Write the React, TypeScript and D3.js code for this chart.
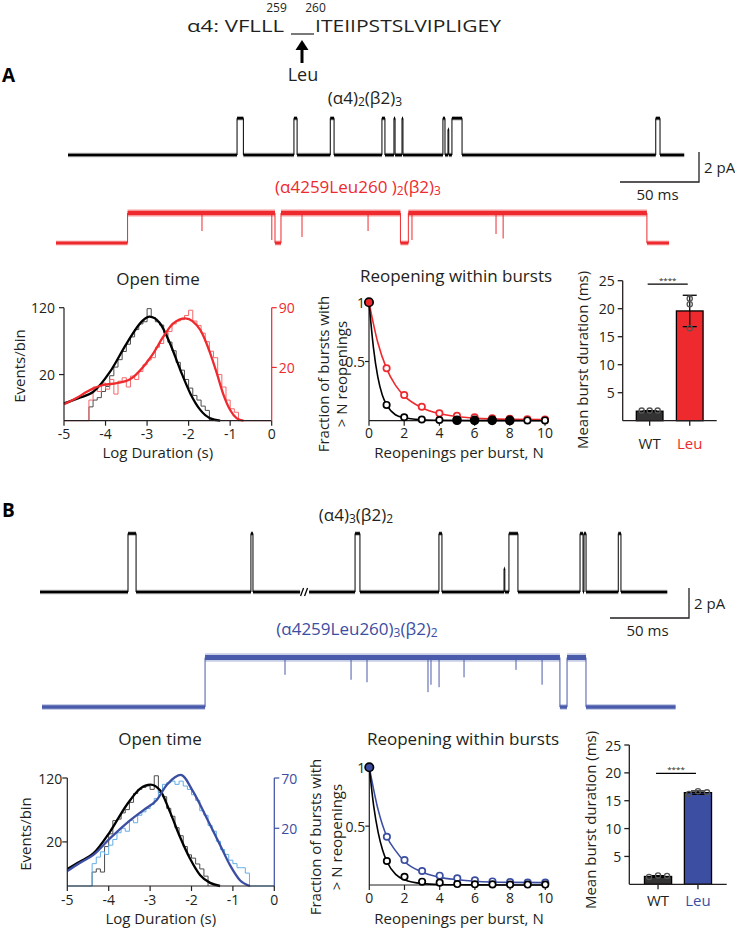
import * as d3 from 'd3';

const FONT = '"Open Sans", Arial, sans-serif';
const INK = '#231f20';
const RED = '#ee2a2e';
const RED_LIGHT = '#f3696b';
const BLUE = '#3b4ea2';
const BLUE_LIGHT = '#63aee6';
const BLUE_TRACE = '#4a5bab';

const PX_PER_MS = 79 / 50;
const PX_PER_PA = 15;

// single-channel records: [open ms, shut ms, fraction of full amplitude]
const wtA_open = [[107, 111, 1], [143, 145, 1], [166, 168.4, 1], [198.7, 200.6, 1], [206.3, 207, 1], [211.4, 212, 1], [237.3, 238.6, 1], [240.5, 241, 0.7], [243, 249.4, 1], [372, 374.7, 1]];
const wtA_dur = 390;
const wtA_amp = 2.45;
const leuA_open = [[45.3, 138.6, 1], [142.4, 218, 1], [223, 374, 1]];
const leuA_flick = [[92.4, 0.6], [136.6, 0.9], [155.7, 0.8], [197.5, 0.6], [225.3, 0.9], [278.5, 0.7], [283, 0.85]];
const leuA_dur = 388;
const leuA_amp = 2.0;

const wtB_open = [[55.7, 60.8, 1], [133.5, 134.8, 1], [199.4, 202.5, 1], [252.5, 254.4, 1], [293.7, 294.2, 0.4], [296.8, 302.5, 1], [341.8, 343.7, 1], [344.3, 345.6, 1], [366, 367.7, 1]];
const wtB_dur = 397;
const wtB_amp = 3.9;
const wtB_break = [164.6, 170.3];
const leuB_open = [[103.2, 327.8, 1], [332.3, 344.3, 1]];
const leuB_flick = [[153.8, 0.35], [195.6, 0.45], [205.7, 0.5], [244.3, 0.7], [246.2, 0.55], [251.3, 0.6], [267.1, 0.4], [300, 0.25], [316.5, 0.55]];
const leuB_dur = 401;
const leuB_amp = 3.3;

// open-time histograms, 0.1 log-unit bins starting at -4.4
const histStart = -4.4;
const binW = 0.1;
const wtA_hist = [1.8, 4, 5, 8, 11, 19, 27, 35, 45, 55, 66, 78, 88, 92, 118, 100, 92, 86, 72, 58, 46, 32, 24, 16, 10, 6, 4, 2, 1];
const leuA_hist = [3, 8, 6, 10, 7, 12, 5, 11, 13, 8, 14, 12, 17, 22, 26, 28, 38, 42, 52, 56, 66, 70, 72, 78, 86, 70, 64, 54, 44, 34, 28, 15, 8, 3, 1, 0.5];
const wtB_hist = [2, 3, 2, 16, 28, 44, 46, 55, 60, 72, 88, 96, 100, 103, 96, 125, 90, 82, 62, 50, 35, 26, 16, 10, 8, 5, 3, 1];
const leuB_hist = [3, 5, 7, 6, 10, 13, 17, 20, 18, 26, 24, 30, 33, 36, 40, 46, 55, 62, 64, 66, 62, 66, 60, 56, 50, 44, 34, 30, 22, 18, 12, 8, 6, 4, 3, 2, 2, 1];

// fitted densities [log10 s, events/bin]
const wtA_fit = [[-5, 2.8], [-4.65, 4.8], [-4.29, 7.9], [-3.89, 22.6], [-3.49, 56.3], [-3.09, 95.3], [-2.94, 101.6], [-2.69, 89.2], [-2.45, 56.3], [-2.2, 24.2], [-1.96, 7], [-1.72, 1.1], [-1.48, 0.05], [-1.24, 0]];
const leuA_fit = [[-5, 1.9], [-4.7, 3.6], [-4.45, 5.9], [-4.05, 9], [-3.73, 9.9], [-3.41, 12.1], [-3.09, 20.6], [-2.85, 32], [-2.61, 49.7], [-2.37, 66.9], [-2.08, 73.9], [-1.72, 58], [-1.48, 32], [-1.32, 15.8], [-1.16, 4.7], [-1.0, 0.8], [-0.84, 0.04], [-0.68, 0]];
const wtB_fit = [[-5, 3], [-4.7, 6], [-4.37, 10.9], [-3.97, 30.2], [-3.57, 67.1], [-3.24, 97.7], [-2.99, 105.8], [-2.76, 94.3], [-2.52, 56.5], [-2.28, 24.9], [-2.04, 7.9], [-1.79, 1.2], [-1.55, 0.1], [-1.31, 0]];
const leuB_fit = [[-5, 1.35], [-4.7, 3.2], [-4.37, 5.8], [-3.97, 13.6], [-3.57, 23.6], [-3.16, 34.6], [-2.84, 44.4], [-2.6, 61.2], [-2.4, 71], [-2.26, 74], [-1.96, 53.4], [-1.63, 27.5], [-1.31, 10.1], [-1.07, 2.6], [-0.83, 0.2], [-0.59, 0]];
const logTicks = [-5, -4, -3, -2, -1, 0];

// reopenings within bursts
const nReopen = [0, 1, 2, 3, 4, 5, 6, 7, 8, 9, 10];
const wtA_reopen = [1, 0.133, 0.029, 0.01, 0.006, 0.004, 0.003, 0.003, 0.002, 0.002, 0.002];
const leuA_reopen = [1, 0.443, 0.217, 0.118, 0.0625, 0.042, 0.029, 0.02, 0.015, 0.012, 0.01];
const wtB_reopen = [1, 0.204, 0.07, 0.028, 0.02, 0.008, 0.006, 0.005, 0.004, 0.004, 0.004];
const leuB_reopen = [1, 0.41, 0.212, 0.119, 0.079, 0.057, 0.04, 0.03, 0.025, 0.02, 0.02];
const wtA_reFit = [[0, 1], [0.25, 0.62], [0.5, 0.37], [0.75, 0.22], [1, 0.135], [1.5, 0.05], [2, 0.025], [3, 0.008], [4, 0.003], [6, 0.001], [10, 0]];
const leuA_reFit = [[0, 1], [0.5, 0.66], [1, 0.44], [1.5, 0.3], [2, 0.21], [3, 0.11], [4, 0.06], [5, 0.035], [6, 0.022], [8, 0.012], [10, 0.01]];
const wtB_reFit = [[0, 1], [0.25, 0.67], [0.5, 0.45], [0.75, 0.3], [1, 0.2], [1.5, 0.09], [2, 0.045], [3, 0.012], [4, 0.004], [6, 0.001], [10, 0]];
const leuB_reFit = [[0, 1], [0.5, 0.64], [1, 0.41], [1.5, 0.29], [2, 0.2], [3, 0.11], [4, 0.065], [5, 0.045], [6, 0.032], [8, 0.022], [10, 0.02]];

// mean burst duration (ms)
const groups = ['WT', 'Leu'];
const burstA_mean = [1.7, 19.6];
const burstA_sd = [0.1, 2.8];
const burstA_pts = [[1.8, 1.8, 1.8], [21.8, 20.8, 16.5]];
const burstB_mean = [1.4, 16.45];
const burstB_sd = [0.15, 0.3];
const burstB_pts = [[1.3, 1.6, 1.5], [16.2, 16.7, 16.5]];
const sigA = 24.4;
const sigB = 19.9;
const burstTicks = [5, 10, 15, 20, 25];

function Trace({ openings, flickers = [], dur, amp, x0, y0, color, band, openBand, gap }: any) {
  const x = d3.scaleLinear().domain([0, dur]).range([x0, x0 + dur * PX_PER_MS]);
  const y = d3.scaleLinear().domain([0, amp]).range([y0, y0 - amp * PX_PER_PA]);
  const segs: number[][] = [];
  let t = 0;
  openings.forEach(([s, e, f]: number[]) => {
    segs.push([t, s, 0]);
    segs.push([s, e, f]);
    t = e;
  });
  segs.push([t, dur, 0]);
  const pieces = gap
    ? segs.flatMap(([a, b, f]) => (f === 0 && a < gap[0] && b > gap[1] ? [[a, gap[0], 0], [gap[1], b, 0]] : [[a, b, f]]))
    : segs;
  const xm = gap ? x((gap[0] + gap[1]) / 2) : 0;
  return (
    <g>
      {openings.map(([s, e, f]: number[], i: number) => (
        <g key={i}>
          <line x1={x(s)} x2={x(s)} y1={y(0)} y2={y(f * amp)} stroke={color} strokeWidth={1} />
          <line x1={x(e)} x2={x(e)} y1={y(0)} y2={y(f * amp)} stroke={color} strokeWidth={1} />
        </g>
      ))}
      {pieces.map(([a, b, f], i) => {
        const w = f === 0 ? band : openBand;
        return (
          <g key={'h' + i}>
            <line x1={x(a)} x2={x(b)} y1={y(f * amp)} y2={y(f * amp)} stroke={color} strokeWidth={w * 1.7} opacity={0.3} />
            <line x1={x(a)} x2={x(b)} y1={y(f * amp)} y2={y(f * amp)} stroke={color} strokeWidth={w} />
          </g>
        );
      })}
      {flickers.map(([tt, d]: number[], i: number) => (
        <line key={'f' + i} x1={x(tt)} x2={x(tt)} y1={y(amp)} y2={y(amp * (1 - d))} stroke={color} strokeWidth={1} />
      ))}
      {gap && (
        <g stroke={color} strokeWidth={1.3}>
          <line x1={xm - 4} x2={xm - 1} y1={y0 + 4} y2={y0 - 4} />
          <line x1={xm} x2={xm + 3} y1={y0 + 4} y2={y0 - 4} />
        </g>
      )}
    </g>
  );
}

function ScaleBar({ xr, yb, ty }: any) {
  const len = 50 * PX_PER_MS;
  const h = 2 * PX_PER_PA;
  return (
    <g>
      <path d={`M${xr - len},${yb}H${xr}V${yb - h}`} fill="none" stroke={INK} strokeWidth={1.3} />
      <text x={xr + 5} y={yb - h / 2} fontSize={15} dominantBaseline="central" fill={INK}>2 pA</text>
      <text x={xr - len / 2 - 2} y={ty} fontSize={15} textAnchor="middle" dominantBaseline="central" fill={INK}>50  ms</text>
    </g>
  );
}

function histPath(vals: number[], start: number, lo: number, hi: number) {
  const pts: number[][] = [[lo, 0], [start, 0]];
  vals.forEach((v, i) => {
    pts.push([start + i * binW, v]);
    pts.push([start + (i + 1) * binW, v]);
  });
  pts.push([start + vals.length * binW, 0]);
  pts.push([hi, 0]);
  return pts;
}

function OpenTime({ L, h1, h2, f1, f2, rMax, rTicks, acc, accLight }: any) {
  const x = d3.scaleLinear().domain([-5, 0]).range([L.x0, L.x1]);
  const yl = d3.scaleSqrt().domain([0, 120]).range([L.yBase, L.yTop]);
  const yr = d3.scaleSqrt().domain([0, rMax]).range([L.yBase, L.yTop]);
  const line = (ys: any) => d3.line<number[]>().x((d) => x(d[0])).y((d) => ys(d[1]));
  const fitLine = (ys: any) => d3.line<number[]>().x((d) => x(d[0])).y((d) => ys(d[1])).curve(d3.curveMonotoneX);
  return (
    <g>
      <text x={L.titleX} y={L.titleY} fontSize={17} textAnchor="middle" dominantBaseline="central" fill={INK}>Open time</text>
      <path d={line(yl)(histPath(h1, histStart, histStart, histStart + h1.length * binW)) || ''} fill="none" stroke="#4d4d4d" strokeWidth={1} />
      <path d={line(yr)(histPath(h2, histStart, -5, 0)) || ''} fill="none" stroke={accLight} strokeWidth={1} />
      <path d={fitLine(yl)(f1) || ''} fill="none" stroke="#000" strokeWidth={2.3} />
      <path d={fitLine(yr)(f2) || ''} fill="none" stroke={acc} strokeWidth={2.3} />
      <line x1={L.x0} x2={L.x1} y1={L.yBase} y2={L.yBase} stroke={INK} strokeWidth={1.2} />
      {logTicks.map((t) => (
        <g key={t}>
          <line x1={x(t)} x2={x(t)} y1={L.yBase} y2={L.yBase + 5} stroke={INK} strokeWidth={1.2} />
          <text x={x(t)} y={L.yBase + 13} fontSize={14} textAnchor="middle" dominantBaseline="central" fill={INK}>{t}</text>
        </g>
      ))}
      <text x={(L.x0 + L.x1) / 2 - 10} y={L.xlabY} fontSize={15} textAnchor="middle" dominantBaseline="central" fill={INK}>Log Duration (s)</text>
      <line x1={L.x0} x2={L.x0} y1={L.yBase} y2={yl(120)} stroke={INK} strokeWidth={1.2} />
      {[20, 120].map((t) => (
        <g key={t}>
          <line x1={L.x0 - 5} x2={L.x0} y1={yl(t)} y2={yl(t)} stroke={INK} strokeWidth={1.2} />
          <text x={L.x0 - L.lGap} y={yl(t)} fontSize={14} textAnchor="end" dominantBaseline="central" fill={INK}>{t}</text>
        </g>
      ))}
      <text transform={`translate(${L.ylabX},${L.ylabY}) rotate(-90)`} fontSize={15} textAnchor="middle" dominantBaseline="central" fill={INK}>Events/bin</text>
      <line x1={L.x1} x2={L.x1} y1={L.yBase} y2={yr(rMax)} stroke={acc} strokeWidth={1.2} />
      {rTicks.map((t: number) => (
        <g key={t}>
          <line x1={L.x1} x2={L.x1 + 5} y1={yr(t)} y2={yr(t)} stroke={acc} strokeWidth={1.2} />
          <text x={L.x1 + 7} y={yr(t)} fontSize={14} dominantBaseline="central" fill={acc}>{t}</text>
        </g>
      ))}
    </g>
  );
}

function Reopen({ L, wt, mut, wtFit, mutFit, acc, fillTail }: any) {
  const x = d3.scaleLinear().domain([0, 10]).range([L.x0, L.x1]);
  const y = d3.scaleLinear().domain([0, 1]).range([L.yBase, L.yTop]);
  const fit = d3.line<number[]>().x((d) => x(d[0])).y((d) => y(d[1])).curve(d3.curveMonotoneX);
  return (
    <g>
      <text x={L.titleX} y={L.titleY} fontSize={17} textAnchor="middle" dominantBaseline="central" fill={INK}>Reopening within bursts</text>
      <line x1={L.x0} x2={L.x1} y1={L.yBase} y2={L.yBase} stroke={INK} strokeWidth={1.2} />
      <line x1={L.x0} x2={L.x0} y1={L.yBase} y2={L.yTop} stroke={INK} strokeWidth={1.2} />
      {[0, 2, 4, 6, 8, 10].map((t) => (
        <g key={t}>
          <line x1={x(t)} x2={x(t)} y1={L.yBase} y2={L.yBase + 5} stroke={INK} strokeWidth={1.2} />
          <text x={x(t)} y={L.yBase + 12} fontSize={14} textAnchor="middle" dominantBaseline="central" fill={INK}>{t}</text>
        </g>
      ))}
      {[0.5, 1].map((t) => (
        <g key={t}>
          <line x1={L.x0 - 4} x2={L.x0} y1={y(t)} y2={y(t)} stroke={INK} strokeWidth={1.2} />
          <text x={L.x0 - 4} y={y(t)} fontSize={14} textAnchor="end" dominantBaseline="central" fill={INK}>{t}</text>
        </g>
      ))}
      <text x={L.xlabX} y={L.xlabY} fontSize={15} textAnchor="middle" dominantBaseline="central" fill={INK}>Reopenings per burst, N</text>
      <text transform={`translate(${L.yl1},${L.ylabY}) rotate(-90)`} fontSize={15} textAnchor="middle" dominantBaseline="central" fill={INK}>Fraction of bursts with</text>
      <text transform={`translate(${L.yl2},${L.ylabY}) rotate(-90)`} fontSize={15} textAnchor="middle" dominantBaseline="central" fill={INK}>{'> N reopenings'}</text>
      <path d={fit(mutFit) || ''} fill="none" stroke={acc} strokeWidth={1.6} />
      <path d={fit(wtFit) || ''} fill="none" stroke="#000" strokeWidth={1.6} />
      {mut.map((v: number, i: number) => (
        <circle key={'m' + i} cx={x(nReopen[i])} cy={y(v)} r={i === 0 ? 4.2 : 3.2} fill={i === 0 ? acc : '#fff'} stroke={i === 0 ? '#000' : acc} strokeWidth={1.7} />
      ))}
      {wt.map((v: number, i: number) => {
        const solid = fillTail && i >= 5 && i <= 8;
        if (i === 0) return null;
        return <circle key={'w' + i} cx={x(nReopen[i])} cy={y(v)} r={solid ? 4 : 3.2} fill={solid ? '#000' : '#fff'} stroke="#000" strokeWidth={1.7} />;
      })}
    </g>
  );
}

function Bars({ L, mean, sd, pts, sig, acc, spread }: any) {
  const x = d3.scaleBand().domain(groups).range([L.x0, L.x1]).paddingInner(L.pi).paddingOuter(L.po);
  const y = d3.scaleLinear().domain([0, 25]).range([L.yBase, L.yTop]);
  const bw = x.bandwidth();
  const cx = (g: string) => (x(g) as number) + bw / 2;
  return (
    <g>
      {groups.map((g, i) => (
        <g key={g}>
          <rect x={x(g)} y={y(mean[i])} width={bw} height={L.yBase - y(mean[i])} fill={i === 0 ? '#333333' : acc} stroke="#000" strokeWidth={1.3} />
          <line x1={cx(g)} x2={cx(g)} y1={y(mean[i] + sd[i])} y2={y(mean[i] - sd[i])} stroke="#000" strokeWidth={1.3} />
          <line x1={cx(g) - 7} x2={cx(g) + 7} y1={y(mean[i] + sd[i])} y2={y(mean[i] + sd[i])} stroke="#000" strokeWidth={1.3} />
          <line x1={cx(g) - 7} x2={cx(g) + 7} y1={y(mean[i] - sd[i])} y2={y(mean[i] - sd[i])} stroke="#000" strokeWidth={1.3} />
          {pts[i].map((v: number, j: number) => (
            <circle key={j} cx={cx(g) + (j - 1) * spread[i]} cy={y(v)} r={2.6} fill="none" stroke="#555" strokeWidth={1.3} />
          ))}
          <line x1={cx(g)} x2={cx(g)} y1={L.yBase} y2={L.yBase + 5} stroke={INK} strokeWidth={1.3} />
          <text x={cx(g)} y={L.labY} fontSize={15} textAnchor="middle" dominantBaseline="central" fill={i === 0 ? INK : acc}>{g}</text>
        </g>
      ))}
      <line x1={L.x0} x2={L.x1} y1={L.yBase} y2={L.yBase} stroke={INK} strokeWidth={1.3} />
      <line x1={L.x0} x2={L.x0} y1={L.yBase} y2={y(25)} stroke={INK} strokeWidth={1.3} />
      {burstTicks.map((t) => (
        <g key={t}>
          <line x1={L.x0 - 5} x2={L.x0} y1={y(t)} y2={y(t)} stroke={INK} strokeWidth={1.3} />
          <text x={L.x0 - 8} y={y(t)} fontSize={14} textAnchor="end" dominantBaseline="central" fill={INK}>{t}</text>
        </g>
      ))}
      <line x1={cx('WT') - 2} x2={cx('Leu') - 2} y1={y(sig)} y2={y(sig)} stroke="#000" strokeWidth={1.2} />
      <text x={(cx('WT') + cx('Leu')) / 2 - 2} y={y(sig) - 1} fontSize={8} textAnchor="middle" fill={INK}>****</text>
      <text transform={`translate(${L.ylabX},${L.ylabY}) rotate(-90)`} fontSize={15} textAnchor="middle" dominantBaseline="central" fill={INK}>Mean burst duration (ms)</text>
    </g>
  );
}

function Label({ x, y, color, head, sub1, mid, sub2 }: any) {
  return (
    <text x={x} y={y} fontSize={17} textAnchor="middle" dominantBaseline="central" fill={color}>
      {head}
      <tspan dy={4} fontSize={12}>{sub1}</tspan>
      <tspan dy={-4}>{mid}</tspan>
      <tspan dy={4} fontSize={12}>{sub2}</tspan>
    </text>
  );
}

const histLA = { x0: 64, x1: 271.7, yBase: 420.7, yTop: 307.7, lGap: 9, titleX: 158, titleY: 278, ylabX: 19, ylabY: 366, xlabY: 452 };
const histLB = { x0: 67.3, x1: 274.3, yBase: 886, yTop: 778, lGap: 5, titleX: 160, titleY: 738, ylabX: 25, ylabY: 834, xlabY: 918 };
const reLA = { x0: 369, x1: 545, yBase: 420.7, yTop: 302.3, titleX: 456, titleY: 275, yl1: 323, yl2: 341, ylabY: 374, xlabX: 459, xlabY: 452 };
const reLB = { x0: 369.3, x1: 545.3, yBase: 885, yTop: 767.3, titleX: 463, titleY: 738, yl1: 315, yl2: 336, ylabY: 837, xlabX: 459, xlabY: 918 };
const barLA = { x0: 622.7, x1: 716.7, yBase: 420.7, yTop: 280.7, pi: 0.335, po: 0.34, labY: 443, ylabX: 582, ylabY: 360 };
const barLB = { x0: 629.3, x1: 726.7, yBase: 884.3, yTop: 745, pi: 0.32, po: 0.38, labY: 900, ylabX: 590, ylabY: 820 };

export default function App() {
  return (
    <svg width={735} height={930} style={{ position: 'absolute', left: 0, top: 0 }} fontFamily={FONT}>
      <rect width={735} height={930} fill="#fff" />
      {/* sequence header */}
      <text x={276.5} y={7} fontSize={12} textAnchor="middle" dominantBaseline="central" fill={INK}>259</text>
      <text x={315.5} y={7} fontSize={12} textAnchor="middle" dominantBaseline="central" fill={INK}>260</text>
      <text x={187} y={26} fontSize={16} dominantBaseline="central" fill={INK} textLength={97} lengthAdjust="spacingAndGlyphs">α4: VFLLL</text>
      <line x1={291} x2={314} y1={34} y2={34} stroke={INK} strokeWidth={1.2} />
      <text x={315} y={26} fontSize={16} dominantBaseline="central" fill={INK} textLength={186} lengthAdjust="spacingAndGlyphs">ITEIIPSTSLVIPLIGEY</text>
      <line x1={302} x2={302} y1={63} y2={48} stroke="#000" strokeWidth={3} />
      <polygon points="302,40 295.5,50 308.5,50" fill="#000" />
      <text x={303} y={74} fontSize={18} textAnchor="middle" dominantBaseline="central" fill={INK}>Leu</text>

      {/* panel A */}
      <text x={2} y={75} fontSize={19} fontWeight="bold" dominantBaseline="central" fill="#000">A</text>
      <Label x={365} y={97} color={INK} head="(α4)" sub1="2" mid="(β2)" sub2="3" />
      <Trace openings={wtA_open} dur={wtA_dur} amp={wtA_amp} x0={68} y0={155} color="#000" band={2.6} openBand={2.6} />
      <ScaleBar xr={699} yb={182} ty={194} />
      <Label x={358} y={186} color={RED} head="(α4259Leu260 )" sub1="2" mid="(β2)" sub2="3" />
      <Trace openings={leuA_open} flickers={leuA_flick} dur={leuA_dur} amp={leuA_amp} x0={56} y0={243} color={RED} band={3} openBand={4.5} />
      <OpenTime L={histLA} h1={wtA_hist} h2={leuA_hist} f1={wtA_fit} f2={leuA_fit} rMax={90} rTicks={[20, 90]} acc={RED} accLight={RED_LIGHT} />
      <Reopen L={reLA} wt={wtA_reopen} mut={leuA_reopen} wtFit={wtA_reFit} mutFit={leuA_reFit} acc={RED} fillTail />
      <Bars L={barLA} mean={burstA_mean} sd={burstA_sd} pts={burstA_pts} sig={sigA} acc={RED} spread={[8, 0]} />

      {/* panel B */}
      <text x={2} y={510} fontSize={19} fontWeight="bold" dominantBaseline="central" fill="#000">B</text>
      <Label x={356} y={514} color={INK} head="(α4)" sub1="3" mid="(β2)" sub2="2" />
      <Trace openings={wtB_open} dur={wtB_dur} amp={wtB_amp} x0={40} y0={592} color="#000" band={2.6} openBand={2.6} gap={wtB_break} />
      <ScaleBar xr={689} yb={618} ty={630} />
      <Label x={357} y={628} color={BLUE} head="(α4259Leu260)" sub1="3" mid="(β2)" sub2="2" />
      <Trace openings={leuB_open} flickers={leuB_flick} dur={leuB_dur} amp={leuB_amp} x0={42} y0={707} color={BLUE_TRACE} band={3.4} openBand={5} />
      <OpenTime L={histLB} h1={wtB_hist} h2={leuB_hist} f1={wtB_fit} f2={leuB_fit} rMax={70} rTicks={[20, 70]} acc={BLUE} accLight={BLUE_LIGHT} />
      <Reopen L={reLB} wt={wtB_reopen} mut={leuB_reopen} wtFit={wtB_reFit} mutFit={leuB_reFit} acc={BLUE} />
      <Bars L={barLB} mean={burstB_mean} sd={burstB_sd} pts={burstB_pts} sig={sigB} acc={BLUE} spread={[9, 9]} />
    </svg>
  );
}
